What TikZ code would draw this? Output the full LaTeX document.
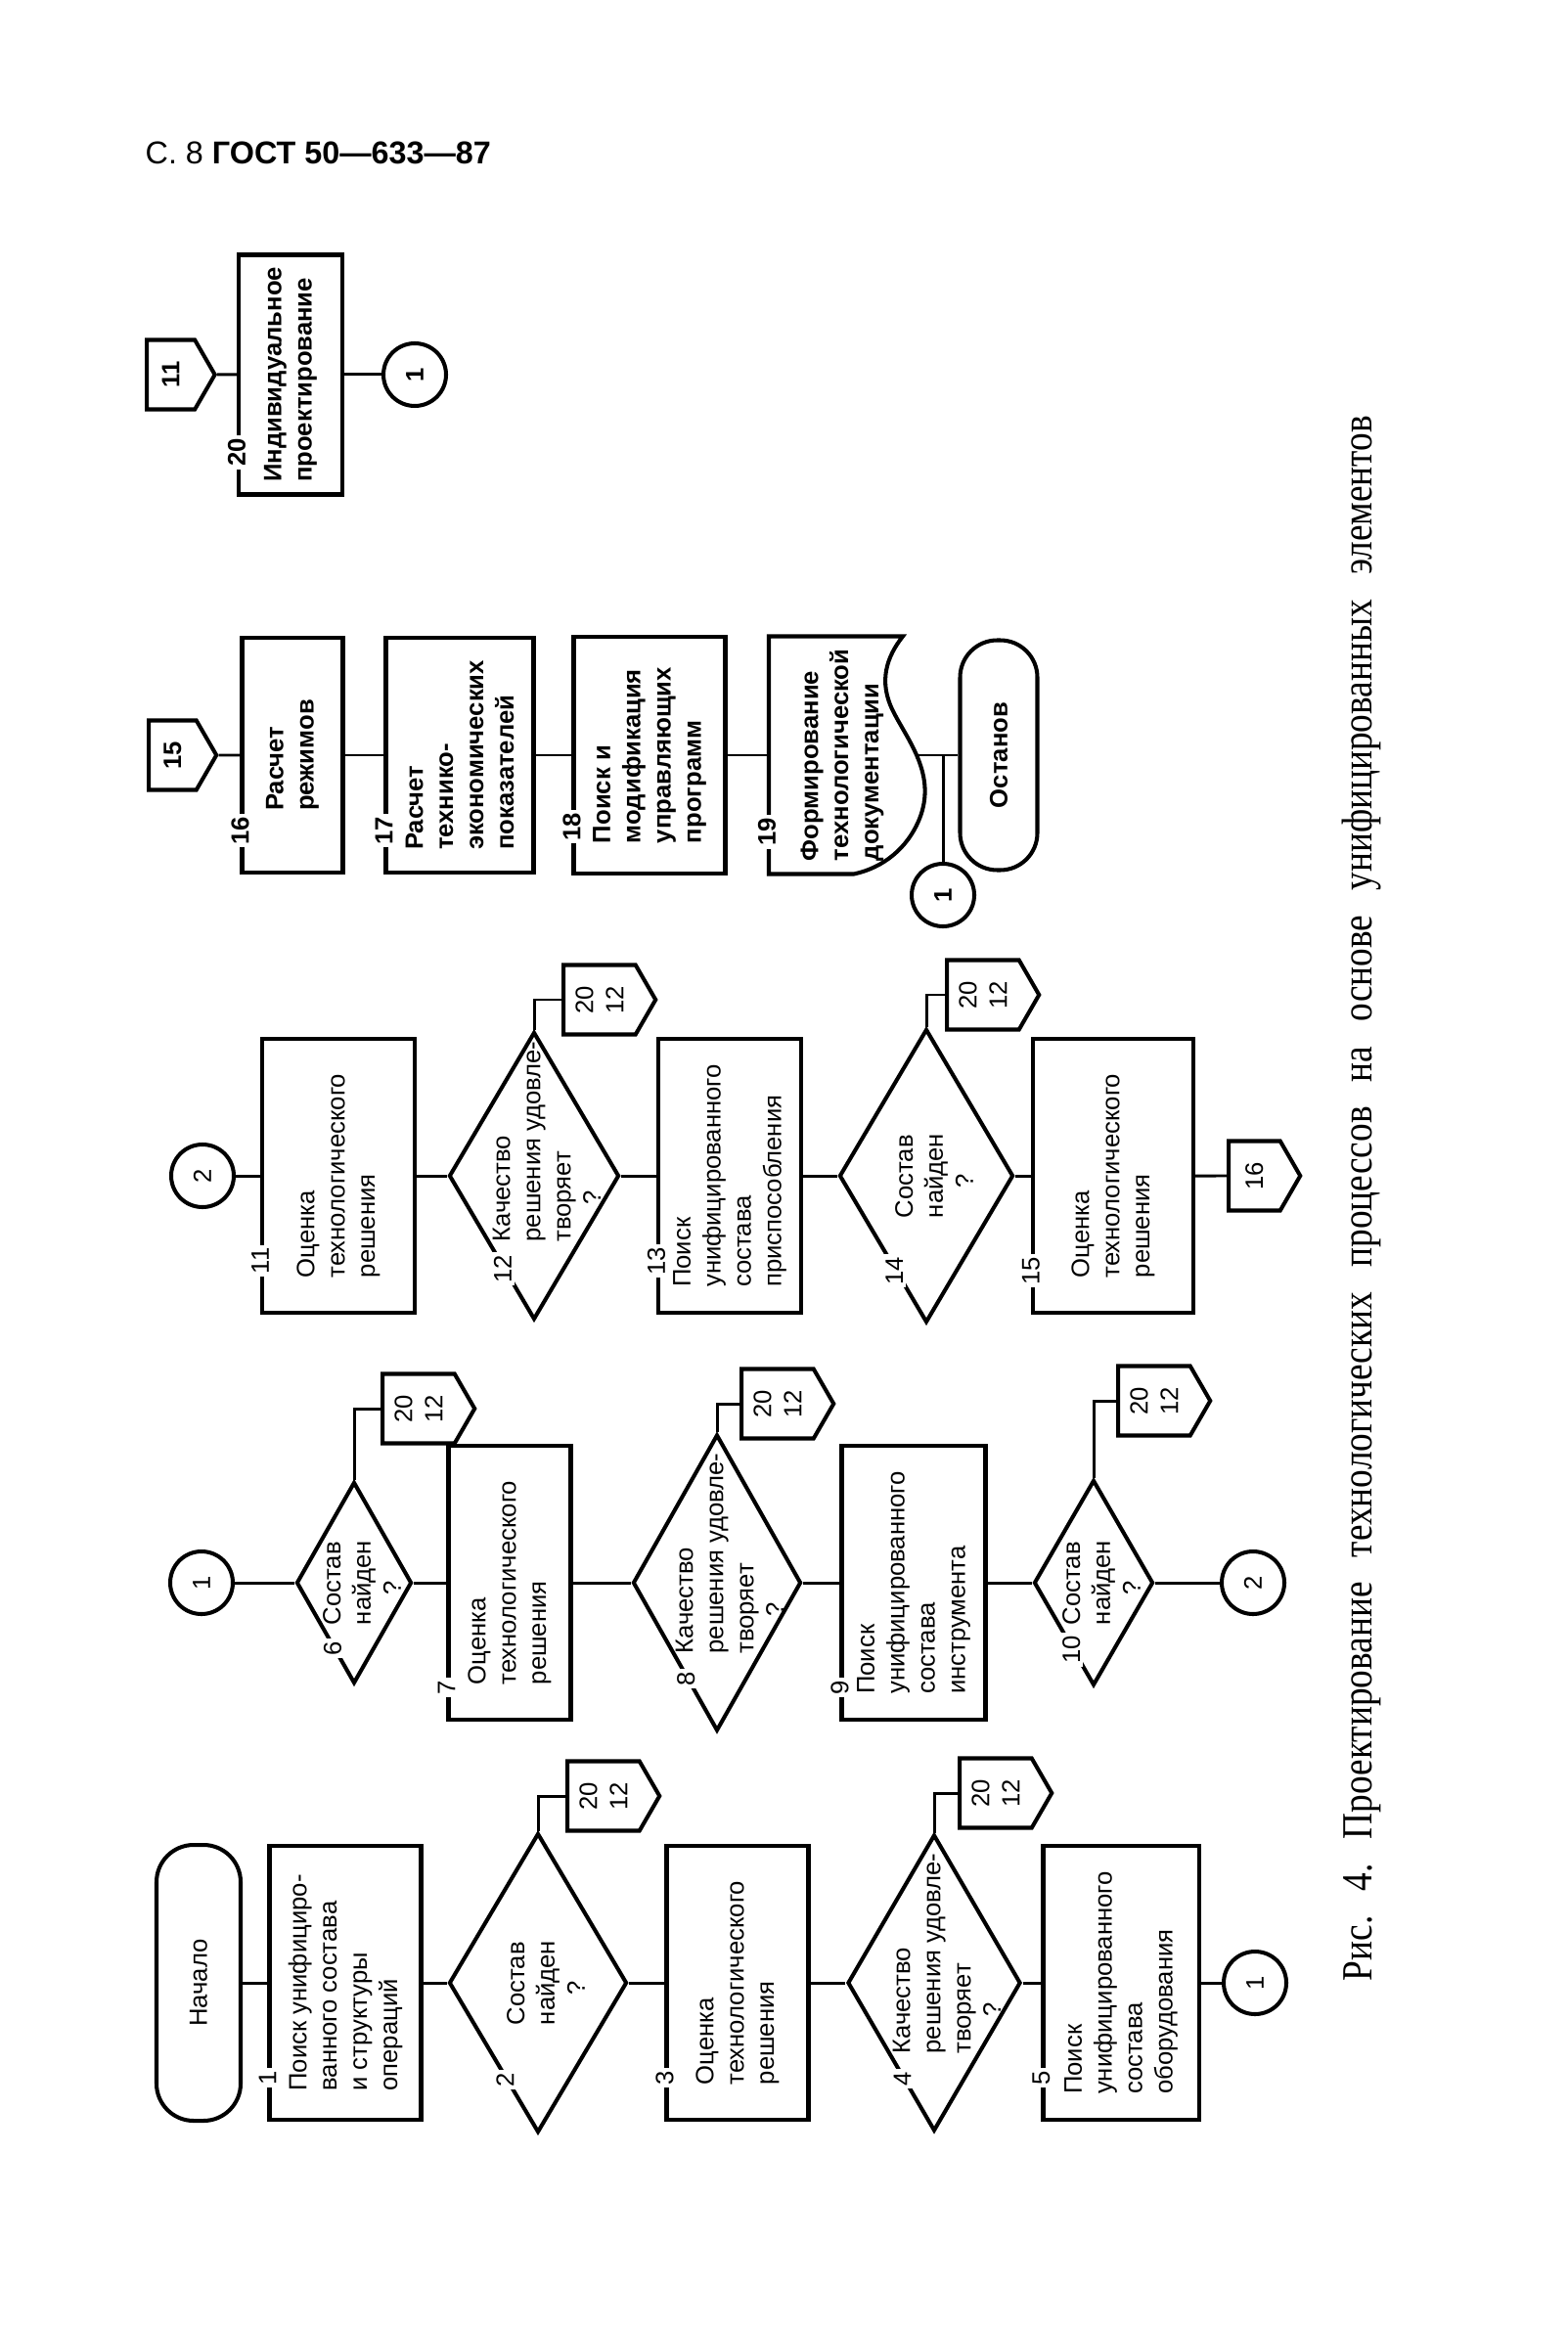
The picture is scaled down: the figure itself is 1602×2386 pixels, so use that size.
\documentclass[tikz,border=0pt]{standalone}
\usepackage{fontspec}
\setmainfont{Liberation Serif}
\setsansfont{Liberation Sans}
\newfontfamily\capfont[FakeStretch=0.85]{Liberation Serif}
\usetikzlibrary{shapes.geometric,shapes.symbols,calc}

\begin{document}
\begin{tikzpicture}[
    x=0.1mm, y=-0.1mm,
    every node/.style={align=center, font=\sffamily\fontsize{7.3}{8.8}\selectfont},
    heavy/.style={font=\sffamily\bfseries\fontsize{7.3}{8.8}\selectfont},
    process/.style={rectangle, draw, line width=1.15pt, rotate=90, align=left, minimum width=28mm},
    decision/.style={diamond, draw, line width=1.15pt, rotate=90, aspect=1, inner sep=0pt},
    qtext/.style={rotate=90, align=left},
    terminal/.style={rectangle, rounded corners=3.8mm, draw, line width=1.15pt, rotate=90},
    connector/.style={circle, draw, line width=1.15pt, rotate=90, minimum size=6.4mm, inner sep=0pt},
    offpage/.style={signal, signal to=south, signal pointer angle=120, draw, line width=1.15pt, rotate=90, minimum width=7.1mm, inner sep=1pt},
    blocknum/.style={rotate=90, fill=white, inner sep=0.8pt},
    flowline/.style={line width=0.85pt}
]
\useasboundingbox (0,0) rectangle (1602,2386);

% Header and caption
\node[anchor=base west, inner sep=0pt, font=\sffamily\fontsize{9.2}{12}\selectfont] (header) at (148,168) {С. 8 \textbf{ГОСТ 50—633—87}};
\node[rotate=90, font=\capfont\fontsize{12.5}{14}\selectfont] (caption) at (1392,1225) {\frenchspacing\makebox[160mm][s]{Рис. 4. Проектирование технологических процессов на основе унифицированных элементов}};

% Row 1
\node[terminal, minimum width=28.2mm, minimum height=8.6mm] (start) at (203,2027) {Начало};
\node[process, minimum height=15.5mm] (b1) at (353,2027) {Поиск унифициро-\\ванного состава\\и структуры\\операций};
\node[decision, minimum width=30.6mm, minimum height=18.2mm] (q2) at (550,2027) {};
\node[qtext] (q2t) at ([xshift=0.8mm]q2.center) {Состав\\найден\\\hspace*{1.2em}?};
\node[offpage, anchor=north, minimum height=8.4mm] (p2) at (578,1836) {20\\12};
\node[process, minimum height=14.5mm] (b3) at (754,2027) {Оценка\\технологического\\решения};
\node[decision, minimum width=30.3mm, minimum height=17.7mm] (q4) at (955,2027) {};
\node[qtext] (q4t) at ([shift={(1.3mm,3mm)}]q4.center) {Качество\\решения удовле-\\творяет\\\hspace*{1.5em}?};
\node[offpage, anchor=north, minimum height=8.4mm] (p4) at (979,1833) {20\\12};
\node[process, minimum height=15.9mm] (b5) at (1146,2027) {Поиск\\унифицированного\\состава\\оборудования};
\node[connector] (c1) at (1283,2027) {1};

% Row 2
\node[connector] (c1b) at (206,1618) {1};
\node[decision, minimum width=20.6mm, minimum height=11.8mm] (q6) at (362,1618) {};
\node[qtext] (q6t) at ([xshift=0.8mm]q6.center) {Состав\\найден\\\hspace*{1.2em}?};
\node[offpage, anchor=north, minimum height=8.4mm] (p6) at (389,1440) {20\\12};
\node[process, minimum height=12.5mm] (b7) at (521,1618) {Оценка\\технологического\\решения};
\node[decision, minimum width=30.3mm, minimum height=17.2mm] (q8) at (733,1618) {};
\node[qtext] (q8t) at ([shift={(1.3mm,3mm)}]q8.center) {Качество\\решения удовле-\\творяет\\\hspace*{1.5em}?};
\node[offpage, anchor=north, minimum height=8.4mm] (p8) at (756,1435) {20\\12};
\node[process, minimum height=14.7mm] (b9) at (934,1618) {Поиск\\унифицированного\\состава\\инструмента};
\node[decision, minimum width=21mm, minimum height=12.2mm] (q10) at (1118,1618) {};
\node[qtext] (q10t) at ([xshift=0.8mm]q10.center) {Состав\\найден\\\hspace*{1.2em}?};
\node[offpage, anchor=north, minimum height=8.4mm] (p10) at (1141,1432) {20\\12};
\node[connector] (c2) at (1281,1618) {2};

% Row 3
\node[connector] (c2b) at (207,1202) {2};
\node[process, minimum height=15.6mm] (b11) at (346,1202) {Оценка\\технологического\\решения};
\node[decision, minimum width=29.4mm, minimum height=17.4mm] (q12) at (546,1202) {};
\node[qtext] (q12t) at ([shift={(1.3mm,3.5mm)}]q12.center) {Качество\\решения удовле-\\творяет\\\hspace*{1.5em}?};
\node[offpage, anchor=north, minimum height=8.4mm] (p12) at (574,1022) {20\\12};
\node[process, minimum height=14.6mm] (b13) at (746,1202) {Поиск\\унифицированного\\состава\\приспособления};
\node[decision, minimum width=30mm, minimum height=17.8mm] (q14) at (947,1202) {};
\node[qtext] (q14t) at ([xshift=0.8mm]q14.center) {Состав\\найден\\\hspace*{1.2em}?};
\node[offpage, anchor=north, minimum height=8.4mm] (p14) at (966,1017) {20\\12};
\node[process, minimum height=16.4mm] (b15) at (1138,1202) {Оценка\\технологического\\решения};
\node[offpage, anchor=north, minimum height=6.3mm] (p16) at (1254,1202) {16};

% Row 4
\node[offpage, heavy, anchor=north, minimum height=5.9mm] (p15) at (150,772) {15};
\node[process, heavy, minimum width=24mm, minimum height=10.3mm] (b16) at (299,772) {Расчет\\режимов};
\node[process, heavy, minimum width=24mm, minimum height=15.1mm] (b17) at (470,772) {Расчет\\технико-\\экономических\\показателей};
\node[process, heavy, minimum width=24.2mm, minimum height=15.5mm] (b18) at (664,772) {Поиск и\\модификация\\управляющих\\программ};
\node[process, heavy, draw=none, minimum width=24.3mm, minimum height=15mm] (d19) at (861,772) {Формирование\\технологической\\документации};
\draw[line width=1.15pt, shift={(d19.center)}] (12,121.5) -- (-75,121.5) -- (-75,-121.5) -- (62,-121.5)
    .. controls (45,-100) and (37,-75) .. (52,-45)
    .. controls (67,-15) and (97,20) .. (79,65)
    .. controls (67,95) and (42,115) .. (12,121.5) -- cycle;
\node[terminal, heavy, minimum width=23.5mm, minimum height=7.9mm] (stop) at (1021,772) {Останов};
\node[connector, heavy] (c1c) at (964,915) {1};

% Row 5
\node[offpage, heavy, anchor=north, minimum height=5.9mm] (p11) at (148,383) {11};
\node[process, heavy, minimum width=24.5mm, minimum height=10.6mm] (b20) at (297,383) {Индивидуальное\\проектирование};
\node[connector, heavy] (c1d) at (424,383) {1};

% Block numbers
\node[blocknum] (n1) at ($(b1.north west)!4.5mm!(b1.north east)$) {1};
\node[blocknum] (n2) at ($(q2.north)!.64!(q2.west)$) {2};
\node[blocknum] (n3) at ($(b3.north west)!4.5mm!(b3.north east)$) {3};
\node[blocknum] (n4) at ($(q4.north)!.64!(q4.west)$) {4};
\node[blocknum] (n5) at ($(b5.north west)!4.5mm!(b5.north east)$) {5};
\node[blocknum] (n6) at ($(q6.north)!.64!(q6.west)$) {6};
\node[blocknum] (n7) at ($(b7.north west)!3.5mm!(b7.north east)$) {7};
\node[blocknum] (n8) at ($(q8.north)!.64!(q8.west)$) {8};
\node[blocknum] (n9) at ($(b9.north west)!3.5mm!(b9.north east)$) {9};
\node[blocknum] (n10) at ($(q10.north)!.64!(q10.west)$) {10};
\node[blocknum] (n11) at ($(b11.north west)!5.5mm!(b11.north east)$) {11};
\node[blocknum] (n12) at ($(q12.north)!.64!(q12.west)$) {12};
\node[blocknum] (n13) at ($(b13.north west)!5.5mm!(b13.north east)$) {13};
\node[blocknum] (n14) at ($(q14.north)!.64!(q14.west)$) {14};
\node[blocknum] (n15) at ($(b15.north west)!4.5mm!(b15.north east)$) {15};
\node[blocknum, heavy] (n16) at ($(b16.north west)!4.5mm!(b16.north east)$) {16};
\node[blocknum, heavy] (n17) at ($(b17.north west)!4.5mm!(b17.north east)$) {17};
\node[blocknum, heavy] (n18) at ($(b18.north west)!5mm!(b18.north east)$) {18};
\node[blocknum, heavy] (n19) at ($(d19.north west)!4.5mm!(d19.north east)$) {19};
\node[blocknum, heavy] (n20) at ($(b20.north west)!4.5mm!(b20.north east)$) {20};

% Connections
\draw[flowline] (start) -- (b1);
\draw[flowline] (b1) -- (q2);
\draw[flowline] (q2) -- (b3);
\draw[flowline] (b3) -- (q4);
\draw[flowline] (q4) -- (b5);
\draw[flowline] (b5) -- (c1);
\draw[flowline] (q2.east) |- (p2.north);
\draw[flowline] (q4.east) |- (p4.north);

\draw[flowline] (c1b) -- (q6);
\draw[flowline] (q6) -- (b7);
\draw[flowline] (b7) -- (q8);
\draw[flowline] (q8) -- (b9);
\draw[flowline] (b9) -- (q10);
\draw[flowline] (q10) -- (c2);
\draw[flowline] (q6.east) |- (p6.north);
\draw[flowline] (q8.east) |- (p8.north);
\draw[flowline] (q10.east) |- (p10.north);

\draw[flowline] (c2b) -- (b11);
\draw[flowline] (b11) -- (q12);
\draw[flowline] (q12) -- (b13);
\draw[flowline] (b13) -- (q14);
\draw[flowline] (q14) -- (b15);
\draw[flowline] (b15) -- (p16);
\draw[flowline] (q12.east) |- (p12.north);
\draw[flowline] (q14.east) |- (p14.north);

\draw[flowline] (p15) -- (b16);
\draw[flowline] (b16) -- (b17);
\draw[flowline] (b17) -- (b18);
\draw[flowline] (b18) -- (d19);
\draw[flowline] (d19) -- (stop);
\draw[flowline] (c1c) -- (c1c |- d19);

\draw[flowline] (p11) -- (b20);
\draw[flowline] (b20) -- (c1d);

\end{tikzpicture}
\end{document}
